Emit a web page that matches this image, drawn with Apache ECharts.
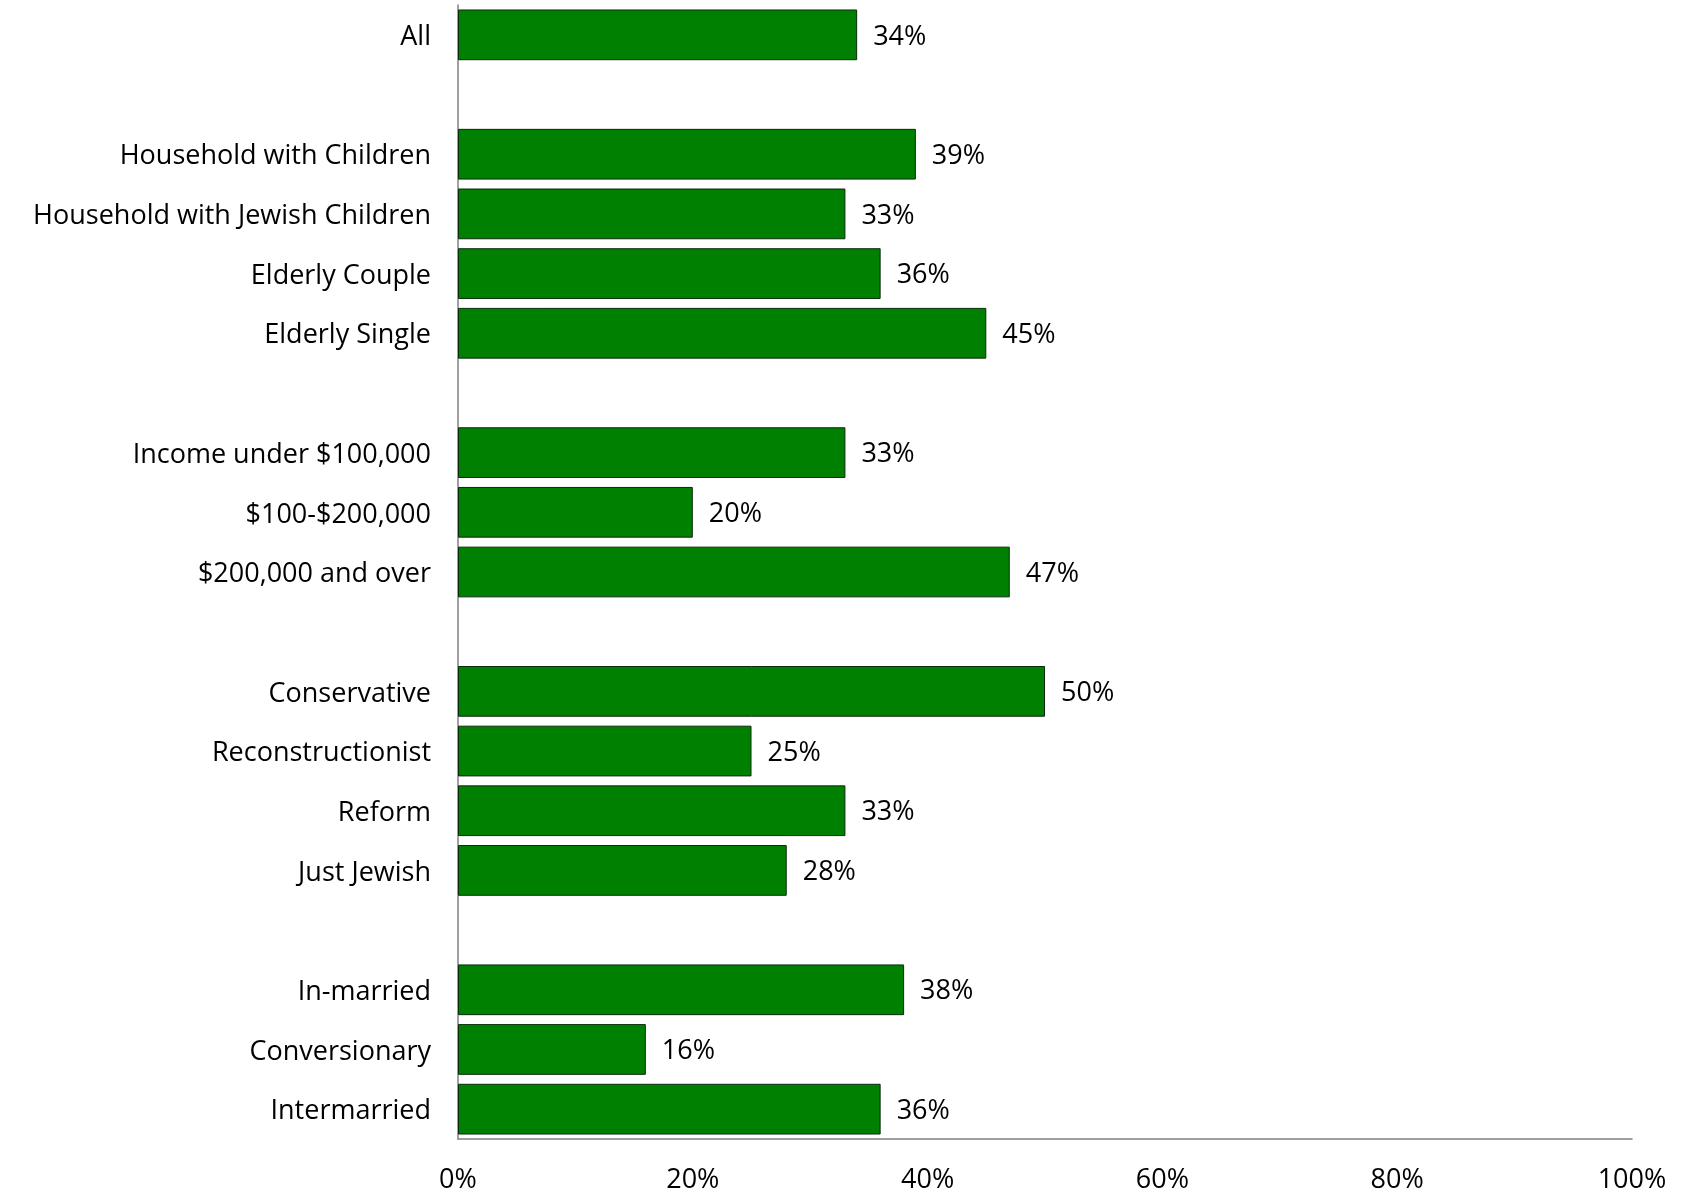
<!DOCTYPE html>
<html>
<head>
<meta charset="utf-8">
<script src="https://cdn.jsdelivr.net/npm/echarts@6/dist/echarts.min.js"></script>
<style>
html,body{margin:0;padding:0;background:#fff;}
#main{width:1684px;height:1194px;}
</style>
</head>
<body>
<div id="main"></div>
<script>
var categories = ["All", "", "Household with Children", "Household with Jewish Children", "Elderly Couple", "Elderly Single", " ", "Income under $100,000", "$100-$200,000", "$200,000 and over", "  ", "Conservative", "Reconstructionist", "Reform", "Just Jewish", "   ", "In-married", "Conversionary", "Intermarried"];
var values = [34, null, 39, 33, 36, 45, null, 33, 20, 47, null, 50, 25, 33, 28, null, 38, 16, 36];
var xTicks = [0, 20, 40, 60, 80, 100];

var font = "'Open Sans', 'Noto Sans', sans-serif";
var chart = echarts.init(document.getElementById('main'), null, {renderer: 'canvas'});
chart.setOption({
  animation: false,
  backgroundColor: '#ffffff',
  grid: {left: 458, right: 52, top: 5, bottom: 54, containLabel: false},
  xAxis: {
    type: 'value', min: 0, max: 100, interval: 20,
    axisLine: {show: true, lineStyle: {color: '#808080', width: 1.5}},
    axisTick: {show: false},
    splitLine: {show: false},
    axisLabel: {
      margin: 28, color: '#000', fontFamily: font, fontSize: 27,
      formatter: function (v) { return xTicks.indexOf(v) >= 0 ? v + '%' : ''; }
    }
  },
  yAxis: {
    type: 'category', inverse: true, data: categories,
    axisLine: {show: true, lineStyle: {color: '#808080', width: 1.5}},
    axisTick: {show: false},
    axisLabel: {
      margin: 27, color: '#000', fontFamily: font, fontSize: 27, interval: 0,
      formatter: function (v) { return v.trim() === '' ? '' : '{c|' + v + '}'; },
      rich: {c: {fontFamily: font, fontSize: 27, color: '#000', padding: [5, 0, 0, 0]}}
    }
  },
  series: [{
    type: 'bar', data: values, barCategoryGap: '15%',
    itemStyle: {color: '#008000', borderColor: '#0b2a0b', borderWidth: 1},
    label: {
      show: true, position: 'right', distance: 16, color: '#000',
      fontFamily: font, fontSize: 27, offset: [0, 2],
      formatter: function (p) { return p.value == null ? '' : p.value + '%'; }
    }
  }]
});
</script>
</body>
</html>
